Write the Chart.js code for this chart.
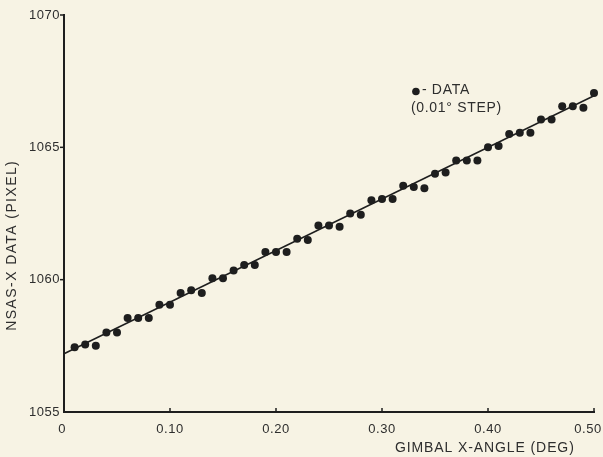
<!DOCTYPE html>
<html>
<head>
<meta charset="utf-8">
<script src="https://cdn.jsdelivr.net/npm/chart.js@4.4.1/dist/chart.umd.min.js"></script>
<style>
  html, body { margin: 0; padding: 0; background: #f7f3e4; }
  #wrap { width: 603px; height: 457px; position: relative; }
</style>
</head>
<body>
<div id="wrap"><canvas id="c" width="603" height="457"></canvas></div>
<script>
// ---- data ----
const angleDeg = [0.01,0.02,0.03,0.04,0.05,0.06,0.07,0.08,0.09,0.10,
                  0.11,0.12,0.13,0.14,0.15,0.16,0.17,0.18,0.19,0.20,
                  0.21,0.22,0.23,0.24,0.25,0.26,0.27,0.28,0.29,0.30,
                  0.31,0.32,0.33,0.34,0.35,0.36,0.37,0.38,0.39,0.40,
                  0.41,0.42,0.43,0.44,0.45,0.46,0.47,0.48,0.49,0.50];
const nsasPixel = [1057.45,1057.55,1057.5,1058.0,1058.0,1058.55,1058.55,1058.55,1059.05,1059.05,
                   1059.5,1059.6,1059.5,1060.05,1060.05,1060.35,1060.55,1060.55,1061.05,1061.05,
                   1061.05,1061.55,1061.5,1062.05,1062.05,1062.0,1062.5,1062.45,1063.0,1063.05,
                   1063.05,1063.55,1063.5,1063.45,1064.0,1064.05,1064.5,1064.5,1064.5,1065.0,
                   1065.05,1065.5,1065.55,1065.55,1066.05,1066.05,1066.55,1066.55,1066.5,1067.05];
const fitX = [0, 0.5];
const fitY = [1057.2, 1066.95];
const xTickValues = [0, 0.1, 0.2, 0.3, 0.4, 0.5];
const xTickLabels = ["0", "0.10", "0.20", "0.30", "0.40", "0.50"];
const yTickValues = [1055, 1060, 1065, 1070];
const xTitle = "GIMBAL X-ANGLE (DEG)";
const yTitle = "NSAS-X DATA (PIXEL)";
const legendLine1 = "- DATA";
const legendLine2 = "(0.01\u00B0 STEP)";

const INK = '#1e1e1e';
const TEXT = '#2e2e2e';
const FONT = '"Liberation Sans", Arial, sans-serif';

const decor = {
  id: 'decor',
  beforeDraw(chart) {
    const ctx = chart.ctx;
    ctx.save();
    ctx.fillStyle = '#f7f3e4';
    ctx.fillRect(0, 0, chart.width, chart.height);
    ctx.restore();
  },
  afterDraw(chart) {
    const ctx = chart.ctx;
    const a = chart.chartArea;
    const xs = chart.scales.x, ys = chart.scales.y;
    ctx.save();
    // axes lines
    ctx.strokeStyle = INK;
    ctx.lineWidth = 2;
    ctx.beginPath();
    ctx.moveTo(a.left, ys.getPixelForValue(1070) - 1);
    ctx.lineTo(a.left, a.bottom);
    ctx.lineTo(xs.getPixelForValue(0.5) + 1, a.bottom);
    ctx.stroke();
    // x ticks pointing up
    ctx.lineWidth = 1.5;
    xTickValues.forEach(v => {
      if (v === 0) return;
      const px = xs.getPixelForValue(v);
      ctx.beginPath();
      ctx.moveTo(px, a.bottom);
      ctx.lineTo(px, a.bottom - 4);
      ctx.stroke();
    });
    // y ticks pointing left
    yTickValues.forEach(v => {
      if (v === 1055) return;
      const py = ys.getPixelForValue(v);
      ctx.beginPath();
      ctx.moveTo(a.left - 4, py);
      ctx.lineTo(a.left, py);
      ctx.stroke();
    });
    // tick labels
    ctx.fillStyle = TEXT;
    ctx.font = '13px ' + FONT;
    if ('letterSpacing' in ctx) ctx.letterSpacing = '0.5px';
    ctx.textBaseline = 'middle';
    ctx.textAlign = 'right';
    yTickValues.forEach(v => {
      ctx.fillText(String(v), a.left - 4, ys.getPixelForValue(v));
    });
    ctx.textAlign = 'center';
    xTickValues.forEach((v, i) => {
      let px = xs.getPixelForValue(v);
      if (i === 0) px -= 2;
      if (i === xTickValues.length - 1) px -= 6;
      ctx.fillText(xTickLabels[i], px, a.bottom + 17);
    });
    // x title
    ctx.font = '14px ' + FONT;
    if ('letterSpacing' in ctx) ctx.letterSpacing = '0.9px';
    ctx.fillText(xTitle, xs.getPixelForValue(0.397), a.bottom + 36);
    // y title
    ctx.save();
    ctx.translate(12, ys.getPixelForValue(1061.3));
    ctx.rotate(-Math.PI / 2);
    if ('letterSpacing' in ctx) ctx.letterSpacing = '1.4px';
    ctx.fillText(yTitle, 0, 0);
    ctx.restore();
    // legend
    const lx = xs.getPixelForValue(0.332), ly = ys.getPixelForValue(1067.15);
    ctx.fillStyle = INK;
    ctx.beginPath();
    ctx.arc(lx, ly + 1, 3.8, 0, Math.PI * 2);
    ctx.fill();
    ctx.fillStyle = TEXT;
    ctx.textAlign = 'left';
    ctx.font = '14px ' + FONT;
    if ('letterSpacing' in ctx) ctx.letterSpacing = '0.7px';
    ctx.fillText(legendLine1, lx + 6, ly);
    ctx.fillText(legendLine2, lx - 5, ly + 18);
    ctx.restore();
  }
};

new Chart(document.getElementById('c'), {
  type: 'scatter',
  data: {
    datasets: [
      {
        type: 'line',
        data: fitX.map((x, i) => ({ x, y: fitY[i] })),
        borderColor: INK,
        borderWidth: 1.5,
        pointRadius: 0,
        fill: false,
        order: 2
      },
      {
        data: angleDeg.map((x, i) => ({ x, y: nsasPixel[i] })),
        backgroundColor: INK,
        borderColor: INK,
        pointRadius: 4,
        pointBorderWidth: 0,
        order: 1
      }
    ]
  },
  options: {
    responsive: false,
    animation: false,
    devicePixelRatio: 1,
    clip: false,
    layout: { padding: { top: 15, right: 9, left: 0, bottom: 0 } },
    plugins: { legend: { display: false }, tooltip: { enabled: false } },
    scales: {
      x: {
        type: 'linear', min: 0, max: 0.5,
        grid: { display: false, drawTicks: false },
        border: { display: false },
        ticks: { display: false, stepSize: 0.1 },
        afterFit(s) { s.height = 45; }
      },
      y: {
        type: 'linear', min: 1055, max: 1070,
        grid: { display: false, drawTicks: false },
        border: { display: false },
        ticks: { display: false, stepSize: 5 },
        afterFit(s) { s.width = 64; }
      }
    }
  },
  plugins: [decor]
});
</script>
</body>
</html>
